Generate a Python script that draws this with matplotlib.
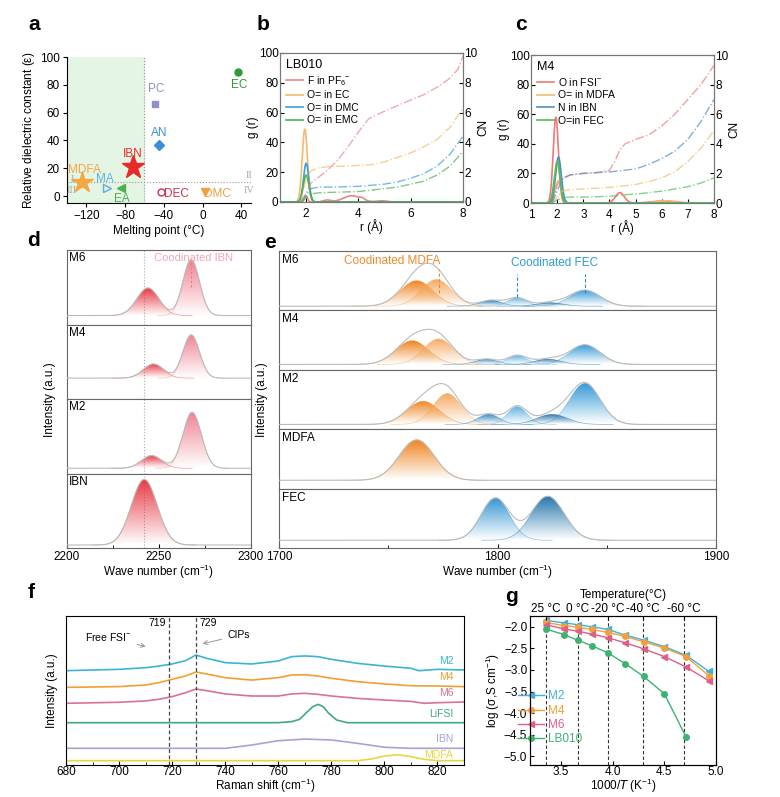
import numpy as np
import matplotlib
matplotlib.use('Agg')
import matplotlib.pyplot as plt
from matplotlib.patches import Polygon
from matplotlib.colors import to_rgb

plt.rcParams['font.family'] = ['Liberation Sans', 'DejaVu Sans']
plt.rcParams['font.size'] = 8.5
plt.rcParams['axes.linewidth'] = 0.8
plt.rcParams['xtick.direction'] = 'in'
plt.rcParams['ytick.direction'] = 'in'
plt.rcParams['xtick.major.size'] = 3
plt.rcParams['ytick.major.size'] = 3
plt.rcParams['xtick.major.pad'] = 2
plt.rcParams['ytick.major.pad'] = 2
plt.rcParams['mathtext.default'] = 'regular'

# ---------------- data ----------------
# a: solvent screening
solvents = ['MDFA', 'IBN', 'MA', 'EA', 'DEC', 'DMC', 'AN', 'PC', 'EC']
melting_pt = [-125, -72, -99, -84, -43, 2, -45, -49, 37]
dielectric = [10, 21, 6, 6, 3, 3, 37, 66, 89]

# b: RDF / CN of LB010  (g(r) peaks: centre, sigma, height)
b_labels = ['F in PF$_6$$^{-}$', 'O= in EC', 'O= in DMC', 'O= in EMC']
b_gr_peaks = [[(2.0, 0.06, 4), (2.8, 0.15, 1.3), (3.75, 0.33, 4.2), (4.15, 0.08, 1.0), (4.9, 0.2, 0.8)],
              [(1.95, 0.1, 49)],
              [(2.0, 0.1, 26)],
              [(2.0, 0.11, 18)]]
b_cn_r = [[1.8, 2.0, 2.2, 2.5, 2.8, 3.2, 3.6, 4.0, 4.4, 5.0, 5.8, 6.5, 7.1, 7.5, 7.8, 8.0],
          [1.8, 1.9, 2.0, 2.2, 2.5, 3.0, 3.5, 4.0, 4.5, 5.0, 5.5, 6.0, 6.5, 7.0, 7.5, 8.0],
          [1.8, 2.0, 2.2, 2.5, 3.0, 4.0, 5.0, 5.5, 6.0, 6.5, 7.0, 7.5, 8.0],
          [1.8, 2.0, 2.2, 2.5, 3.0, 4.0, 5.0, 5.5, 6.0, 6.5, 7.0, 7.5, 8.0]]
b_cn = [[0, 0.6, 1.3, 1.7, 2.1, 2.8, 3.7, 4.7, 5.6, 6.1, 6.7, 7.2, 7.8, 8.3, 8.9, 9.8],
        [0, 0.8, 1.6, 2.1, 2.3, 2.4, 2.4, 2.45, 2.5, 2.7, 3.0, 3.3, 3.7, 4.2, 5.0, 6.3],
        [0, 0.5, 0.9, 1.0, 1.0, 1.05, 1.2, 1.35, 1.6, 1.9, 2.4, 3.2, 4.4],
        [0, 0.3, 0.55, 0.62, 0.65, 0.7, 0.9, 1.0, 1.2, 1.4, 1.8, 2.4, 3.4]]
b_colors = ['#e8868c', '#f2bb6c', '#3aa0d8', '#4cb050']

# c: RDF / CN of M4
c_labels = ['O in FSI$^{-}$', 'O= in MDFA', 'N in IBN', 'O=in FEC']
c_gr_peaks = [[(1.95, 0.1, 58), (4.4, 0.17, 7), (6.0, 0.4, 1.3)],
              [(2.05, 0.12, 15), (6.2, 0.4, 1.5)],
              [(2.05, 0.11, 31)],
              [(2.0, 0.11, 28)]]
c_cn_r = [[1.8, 1.9, 2.0, 2.2, 2.5, 3.0, 3.5, 4.0, 4.2, 4.4, 4.6, 5.0, 5.5, 6.0, 6.5, 7.0, 7.5, 8.0],
          [1.8, 2.0, 2.2, 2.5, 3.0, 4.0, 5.0, 5.5, 6.0, 6.5, 7.0, 7.5, 8.0],
          [1.8, 2.0, 2.2, 2.5, 3.0, 4.0, 5.0, 5.5, 6.0, 6.5, 7.0, 7.5, 8.0],
          [1.8, 2.0, 2.2, 2.5, 3.0, 4.0, 4.5, 5.0, 6.0, 7.0, 7.5, 8.0]]
c_cn = [[0, 0.5, 1.2, 1.7, 1.9, 2.0, 2.05, 2.2, 2.8, 3.6, 4.0, 4.3, 4.6, 5.2, 6.0, 7.0, 8.0, 9.3],
        [0, 0.4, 0.8, 0.9, 0.95, 1.05, 1.25, 1.45, 1.7, 2.1, 2.8, 3.7, 4.9],
        [0, 0.8, 1.6, 1.9, 2.0, 2.1, 2.3, 2.6, 3.0, 3.5, 4.3, 5.5, 7.0],
        [0, 0.2, 0.35, 0.4, 0.4, 0.45, 0.55, 0.6, 0.8, 1.1, 1.35, 1.7]]
c_colors = ['#f07878', '#f2bb6c', '#4a90c8', '#50c050']

# d: IBN C≡N band (centre, sigma, height)
d_names = ['M6', 'M4', 'M2', 'IBN']
d_base = [0.12, 0.28, 0.07, 0.04]
d_peaks = [[(2244, 6, 0.37), (2267.5, 4.5, 0.75)],
           [(2247, 5.5, 0.19), (2267.5, 4.5, 0.58)],
           [(2246, 5.5, 0.17), (2268, 5.0, 0.75)],
           [(2242, 7, 0.88)]]
d_free_color = '#e6303c'
d_coord_color = '#f07d8c'

# e: C=O band (centre, sigma, height, colour)
e_names = ['M6', 'M4', 'M2', 'MDFA', 'FEC']
e_base = [0.07, 0.09, 0.08, 0.14, 0.13]
e_peaks = [[(1763, 7.5, 0.43, '#ee7d12'), (1772, 7, 0.45, '#f5a65a'), (1797, 5, 0.1, '#1a78b8'),
            (1809, 4.5, 0.14, '#5aaee0'), (1824, 6, 0.06, '#1565a0'), (1840, 7, 0.27, '#2a95d5')],
           [(1761, 7.5, 0.40, '#ee7d12'), (1773, 7, 0.43, '#f5a65a'), (1795, 5, 0.09, '#1a78b8'),
            (1809, 4.5, 0.15, '#5aaee0'), (1823, 6, 0.09, '#1565a0'), (1840, 7, 0.33, '#2a95d5')],
           [(1766, 7.5, 0.39, '#ee7d12'), (1777, 6.5, 0.52, '#f5a65a'), (1796, 5, 0.17, '#1a78b8'),
            (1809, 4.5, 0.30, '#5aaee0'), (1825, 7, 0.17, '#1565a0'), (1840, 7, 0.69, '#2a95d5')],
           [(1763, 8, 0.68, '#ee7d12')],
           [(1799, 6.5, 0.71, '#2a8fd0'), (1823, 7.5, 0.74, '#1a6fa8')]]

# f: Raman spectra (offset, normalised to axis height)
f_names = ['M2', 'M4', 'M6', 'LiFSI', 'IBN', 'MDFA']
f_colors = ['#3ab4d4', '#f0a030', '#d9709a', '#3fa884', '#a4a4d4', '#e8d640']
f_x = [[680, 700, 710, 715, 720, 725, 729, 733, 740, 750, 760, 765, 770, 775, 780, 790, 800, 810, 813, 820, 830],
       [680, 700, 710, 715, 720, 725, 729, 733, 740, 750, 760, 765, 770, 775, 780, 790, 800, 810, 820, 830],
       [680, 700, 710, 715, 720, 725, 729, 733, 740, 750, 760, 765, 770, 775, 780, 790, 800, 810, 815, 820, 830],
       [680, 760, 765, 768, 771, 773, 775, 777, 779, 782, 786, 830],
       [680, 740, 750, 760, 770, 780, 790, 800, 810, 830],
       [680, 790, 795, 800, 805, 810, 815, 820, 830]]
f_y = [[0.633, 0.642, 0.653, 0.664, 0.678, 0.700, 0.738, 0.716, 0.687, 0.678, 0.698, 0.727, 0.732, 0.727, 0.709, 0.682, 0.664, 0.649, 0.633, 0.642, 0.638],
       [0.521, 0.526, 0.537, 0.553, 0.575, 0.597, 0.624, 0.611, 0.586, 0.570, 0.586, 0.604, 0.606, 0.597, 0.582, 0.559, 0.544, 0.532, 0.530, 0.526],
       [0.414, 0.421, 0.430, 0.441, 0.459, 0.485, 0.510, 0.499, 0.477, 0.463, 0.463, 0.477, 0.481, 0.474, 0.463, 0.447, 0.436, 0.427, 0.414, 0.418, 0.423],
       [0.284, 0.284, 0.291, 0.306, 0.358, 0.391, 0.407, 0.391, 0.347, 0.302, 0.284, 0.284],
       [0.112, 0.112, 0.134, 0.163, 0.174, 0.168, 0.145, 0.119, 0.112, 0.112],
       [0.029, 0.029, 0.040, 0.060, 0.069, 0.056, 0.038, 0.029, 0.029]]

# g: ionic conductivity
inv_T = [3.35, 3.53, 3.66, 3.80, 3.95, 4.12, 4.30, 4.50, 4.71, 4.93]
g_names = ['M2', 'M4', 'M6', 'LB010']
g_vals = [[-1.85, -1.91, -1.95, -2.00, -2.06, -2.19, -2.31, -2.46, -2.66, -3.03],
          [-1.90, -1.97, -2.01, -2.06, -2.13, -2.22, -2.35, -2.49, -2.69, -3.13],
          [-1.95, -2.05, -2.10, -2.17, -2.25, -2.37, -2.51, -2.69, -2.93, -3.25],
          [-2.05, -2.18, -2.31, -2.44, -2.60, -2.85, -3.15, -3.55, -4.55]]
g_colors = ['#3fb0dc', '#f3a03c', '#dc6088', '#3cb371']
g_markers = ['<', 'o', '<', 'o']
top_temps = [25, 0, -20, -40, -60]

# ---------------- helpers ----------------
W, H = 780, 797
fig = plt.figure(figsize=(7.8, 7.97), dpi=100)


def rect(l, t, r, b):
    return [l / W, 1 - b / H, (r - l) / W, (b - t) / H]


def gauss(x, peaks):
    y = np.zeros_like(x)
    for p in peaks:
        y += p[2] * np.exp(-0.5 * ((x - p[0]) / p[1]) ** 2)
    return y


def grad_peak(ax, c, s, h, base, color, z):
    x = np.linspace(c - 4 * s, c + 4 * s, 200)
    y = base + h * np.exp(-0.5 * ((x - c) / s) ** 2)
    verts = np.column_stack([np.r_[x, x[::-1]], np.r_[y, np.full(len(x), base)]])
    patch = Polygon(verts, closed=True, fc='none', ec='none')
    ax.add_patch(patch)
    img = np.zeros((64, 2, 4))
    img[..., :3] = to_rgb(color)
    img[..., 3] = np.linspace(0.0, 0.95, 64)[:, None]
    im = ax.imshow(img, extent=[x[0], x[-1], base, y.max()], origin='lower',
                   aspect='auto', zorder=z, interpolation='bilinear')
    im.set_clip_path(patch)
    ax.plot(x, y, color=color, lw=0.5, alpha=0.5, zorder=z + 0.1)


def letter(x, y, s):
    fig.text(x / W, 1 - y / H, s, fontsize=15, fontweight='bold', va='center', ha='left')


# ---------------- a ----------------
ax = fig.add_axes(rect(67, 57, 251, 203))
ax.axvspan(-140, -60, color='#e4f5e4', zorder=0)
ax.axvline(-60, color='#999999', ls=':', lw=0.8)
ax.axhline(10, color='#999999', ls=':', lw=0.8)
a_style = {'MDFA': ('*', '#f4a742', 16, True), 'IBN': ('*', '#e82a2a', 17, True),
           'MA': ('>', '#5ab0e0', 6, False), 'EA': ('<', '#4cb04c', 6, True),
           'DEC': ('o', '#d03050', 5, False), 'DMC': ('v', '#f0a040', 6, True),
           'AN': ('D', '#3a8fd8', 5, True), 'PC': ('s', '#9090c8', 5, True),
           'EC': ('o', '#2e9a3a', 5, True)}
a_text = {'MDFA': (-122, 19), 'IBN': (-72, 30), 'MA': (-101, 12), 'EA': (-83, -2),
          'DEC': (-27, 1.5), 'DMC': (15, 1.5), 'AN': (-45, 45), 'PC': (-48, 77), 'EC': (38, 80)}
for n, mx, my in zip(solvents, melting_pt, dielectric):
    mk, col, ms, filled = a_style[n]
    ax.plot(mx, my, marker=mk, ms=ms, color=col, mfc=col if filled else 'none', mew=1, ls='none', zorder=3)
    tx, ty = a_text[n]
    ax.text(tx, ty, n, color=col, ha='center', va='center', fontsize=8.5)
for s, tx, ty in [('I', -135, 12), ('III', -135, 4), ('II', 48, 15), ('IV', 48, 4)]:
    ax.text(tx, ty, s, color='#aaaaaa', family='Liberation Serif', fontsize=7.5, ha='center', va='center')
ax.set_xlim(-140, 50)
ax.set_ylim(-5, 100)
ax.set_xticks([-120, -80, -40, 0, 40])
ax.set_yticks([0, 20, 40, 60, 80, 100])
ax.spines['top'].set_visible(False)
ax.spines['right'].set_visible(False)
ax.tick_params(direction='out')
ax.set_xlabel('Melting point (°C)', labelpad=2)
ax.set_ylabel('Relative dielectric constant ($\\epsilon$)', labelpad=2)
letter(28, 25, 'a')

# ---------------- b, c ----------------
r = np.linspace(1, 8, 700)


def rdf_panel(box, peaks_list, cn_r, cn, colors, labels, title, xticks):
    ax = fig.add_axes(rect(*box))
    ax2 = ax.twinx()
    for pk, col, lab in zip(peaks_list, colors, labels):
        ax.plot(r, gauss(r, pk), color=col, lw=1.2, label=lab)
    for rr, cc, col in zip(cn_r, cn, colors):
        ax2.plot(rr, cc, color=col, lw=1.0, ls='-.', alpha=0.7)
    ax.set_xlim(1, 8)
    ax.set_ylim(0, 100)
    ax2.set_ylim(0, 10)
    ax.set_xticks(xticks)
    ax.set_yticks([0, 20, 40, 60, 80, 100])
    ax2.set_yticks([0, 2, 4, 6, 8, 10])
    ax.tick_params(axis='y', pad=1)
    ax.tick_params(axis='x', pad=4)
    ax2.tick_params(axis='y', pad=1)
    for a_ in (ax, ax2):
        for sp in a_.spines.values():
            sp.set_color('#777777')
    ax.set_xlabel('r (Å)', labelpad=0)
    ax.set_ylabel('g (r)', labelpad=0)
    ax2.set_ylabel('CN', labelpad=0)
    ax.legend(loc='upper left', frameon=False, fontsize=7.5, title=title, title_fontsize=9,
              handlelength=1.6, borderaxespad=0.2, labelspacing=0.25, handletextpad=0.4,
              alignment='left')
    return ax


rdf_panel((280, 53, 463, 202), b_gr_peaks, b_cn_r, b_cn, b_colors, b_labels, 'LB010', [2, 4, 6, 8])
letter(257, 25, 'b')
rdf_panel((531, 55, 714, 203), c_gr_peaks, c_cn_r, c_cn, c_colors, c_labels, 'M4', [1, 2, 3, 4, 5, 6, 7, 8])
letter(515, 25, 'c')

# ---------------- d ----------------
xd = np.linspace(2200, 2300, 600)
d_top, d_bot = 250, 548
d_h = (d_bot - d_top) / len(d_names)
for i, name in enumerate(d_names):
    t = d_top + i * d_h
    ax = fig.add_axes(rect(67, t, 251, t + d_h))
    pk = d_peaks[i]
    for j, p in enumerate(pk):
        col = d_free_color if (j == 0) else d_coord_color
        grad_peak(ax, p[0], p[1], p[2], d_base[i], col, 2 + j)
    ax.plot(xd, d_base[i] + gauss(xd, pk), color='#bbbbbb', lw=0.8, zorder=5)
    ax.axvline(2242, color='#aaaaaa', ls=':', lw=0.8, zorder=1)
    ax.text(0.01, 0.97, name, transform=ax.transAxes, ha='left', va='top', fontsize=8.5)
    if i == 0:
        ax.text(2269, 0.96, 'Coodinated IBN', color='#f2a6b4', ha='center', va='top', fontsize=8)
        ax.plot([2267.5, 2267.5], [0.5, 0.85], color='#e87a8a', ls=(0, (2, 2)), lw=0.8, zorder=6)
    ax.set_xlim(2200, 2300)
    ax.set_ylim(0, 1)
    ax.set_yticks([])
    for sp in ax.spines.values():
        sp.set_color('#666666')
    if i < len(d_names) - 1:
        ax.set_xticks([])
    else:
        ax.set_xticks([2200, 2250, 2300])
        ax.set_xticks([2225, 2275], minor=True)
        ax.set_xlabel('Wave number (cm$^{-1}$)', labelpad=0)
fig.text(50 / W, 1 - 400 / H, 'Intensity (a.u.)', rotation=90, ha='center', va='center')
letter(27, 240, 'd')

# ---------------- e ----------------
xe = np.linspace(1700, 1900, 800)
e_top, e_bot = 251, 548
e_h = (e_bot - e_top) / len(e_names)
for i, name in enumerate(e_names):
    t = e_top + i * e_h
    ax = fig.add_axes(rect(279, t, 716, t + e_h))
    pk = e_peaks[i]
    for j, p in enumerate(pk):
        grad_peak(ax, p[0], p[1], p[2], e_base[i], p[3], 2 + j * 0.2)
    ax.plot(xe, e_base[i] + gauss(xe, pk), color='#bbbbbb', lw=0.8, zorder=5)
    ax.text(0.008, 0.95, name, transform=ax.transAxes, ha='left', va='top', fontsize=8.5)
    if i == 0:
        ax.text(1752, 0.93, 'Coodinated MDFA', color='#ee8a2a', ha='center', va='top', fontsize=8.5)
        ax.text(1826, 0.9, 'Coodinated FEC', color='#2a9ad8', ha='center', va='top', fontsize=8.5)
        ax.plot([1773, 1773], [0.3, 0.7], color='#ee8a2a', ls=(0, (3, 2)), lw=0.8, zorder=6)
        ax.plot([1809, 1809], [0.22, 0.62], color='#2a8ad0', ls=(0, (3, 2)), lw=0.8, zorder=6)
        ax.plot([1840, 1840], [0.3, 0.62], color='#2a8ad0', ls=(0, (3, 2)), lw=0.8, zorder=6)
    ax.set_xlim(1700, 1900)
    ax.set_ylim(0, 1)
    ax.set_yticks([])
    for sp in ax.spines.values():
        sp.set_color('#666666')
    if i < len(e_names) - 1:
        ax.set_xticks([])
    else:
        ax.set_xticks([1700, 1800, 1900])
        ax.set_xticks([1750, 1850], minor=True)
        ax.set_xlabel('Wave number (cm$^{-1}$)', labelpad=0)
fig.text(262 / W, 1 - 400 / H, 'Intensity (a.u.)', rotation=90, ha='center', va='center')
letter(264, 243, 'e')

# ---------------- f ----------------
ax = fig.add_axes(rect(66, 616, 464, 765))
for xs, ys, col, name in zip(f_x, f_y, f_colors, f_names):
    ax.plot(xs, ys, color=col, lw=1.2)
label_y = [0.70, 0.59, 0.48, 0.34, 0.175, 0.07]
for col, name, ly in zip(f_colors, f_names, label_y):
    ax.text(826, ly, name, color=col, ha='right', va='center', fontsize=7.5)
ax.axvline(719, color='#444444', ls=(0, (3, 2)), lw=0.9)
ax.axvline(729, color='#444444', ls=(0, (3, 2)), lw=0.9)
ax.text(714.5, 0.95, '719', ha='center', va='center', fontsize=7.5)
ax.text(733.5, 0.95, '729', ha='center', va='center', fontsize=7.5)
ax.annotate('Free FSI$^{-}$', xy=(711, 0.79), xytext=(696, 0.86), ha='center', va='center', fontsize=7.5,
            arrowprops=dict(arrowstyle='->', color='#888888', lw=0.6))
ax.annotate('CIPs', xy=(730.5, 0.81), xytext=(745, 0.87), ha='center', va='center', fontsize=7.5,
            arrowprops=dict(arrowstyle='->', color='#888888', lw=0.6))
ax.set_xlim(680, 830)
ax.set_ylim(0, 1)
ax.set_yticks([])
ax.set_xticks(np.arange(680, 821, 20))
ax.set_xticks(np.arange(690, 831, 20), minor=True)
ax.tick_params(axis='x', pad=1)
ax.set_xlabel('Raman shift (cm$^{-1}$)', labelpad=-1)
ax.set_ylabel('Intensity (a.u.)', labelpad=6)
letter(28, 593, 'f')

# ---------------- g ----------------
ax = fig.add_axes(rect(530, 616, 716, 765))
for vals, col, mk, name in zip(g_vals, g_colors, g_markers, g_names):
    ax.plot(inv_T[:len(vals)], vals, color=col, marker=mk, ms=4, lw=1, label=name)
top_pos = [1000 / (tc + 273.15) for tc in top_temps]
for p in top_pos:
    ax.axvline(p, color='#333333', ls=(0, (3, 2)), lw=0.8, zorder=0)
ax.set_xlim(3.2, 5.0)
ax.set_ylim(-5.2, -1.75)
ax.set_xticks([3.5, 4.0, 4.5, 5.0])
ax.set_yticks([-2.0, -2.5, -3.0, -3.5, -4.0, -4.5, -5.0])
ax.tick_params(axis='x', pad=1)
ax.set_xlabel('1000/$\\it{T}$ (K$^{-1}$)', labelpad=-1)
ax.set_ylabel('log ($\\sigma$,S cm$^{-1}$)', labelpad=1)
ax.legend(loc='lower left', bbox_to_anchor=(-0.12, 0.06), frameon=False, fontsize=8.5,
          labelcolor='linecolor', handlelength=2.2, labelspacing=0.2, handletextpad=0.3)
axt = ax.twiny()
axt.set_xlim(ax.get_xlim())
axt.set_xticks(top_pos)
axt.set_xticklabels([f'{tc} °C' for tc in top_temps])
axt.tick_params(pad=1)
axt.set_xlabel('Temperature(°C)', labelpad=3)
letter(505, 596, 'g')

fig.savefig('out.png', dpi=100)
